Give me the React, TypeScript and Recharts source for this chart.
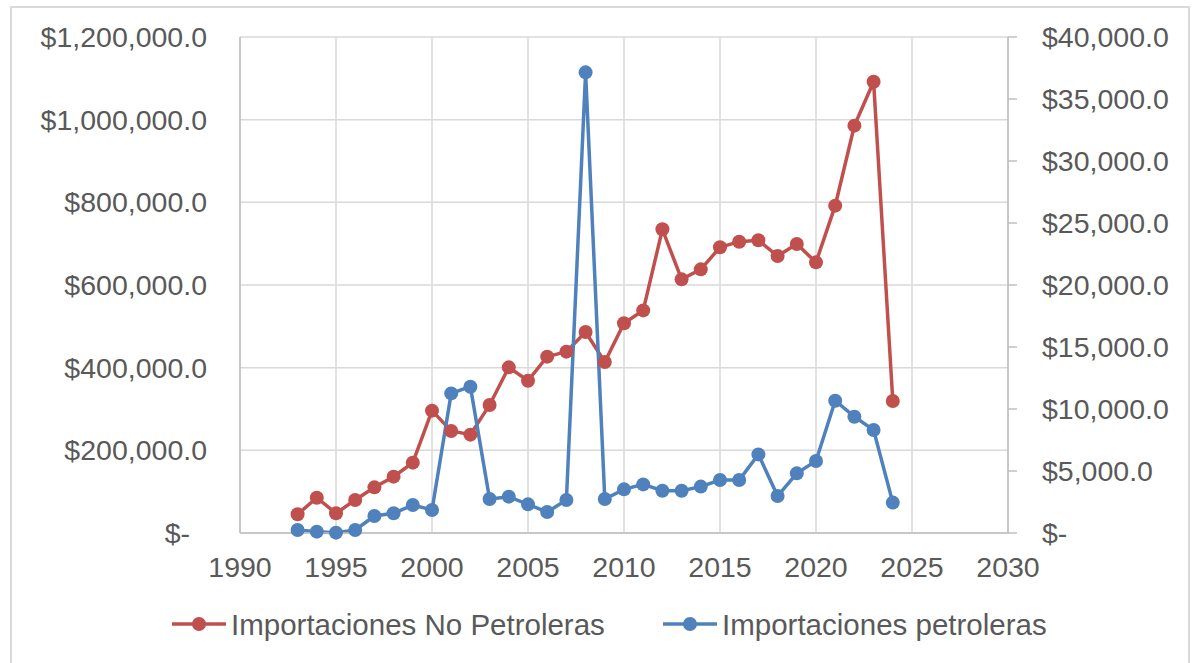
import React from "react";
import { LineChart, Line, XAxis, YAxis, CartesianGrid, Legend } from "recharts";

const years = [1993, 1994, 1995, 1996, 1997, 1998, 1999, 2000, 2001, 2002, 2003, 2004, 2005, 2006, 2007, 2008, 2009, 2010, 2011, 2012, 2013, 2014, 2015, 2016, 2017, 2018, 2019, 2020, 2021, 2022, 2023, 2024];

const noPetroleras = [45200, 85400, 47700, 79800, 110500, 136300, 170200, 296000, 246800, 238000, 309700, 400800, 368500, 426600, 438700, 486300, 413700, 507300, 538500, 734700, 613700, 637900, 691200, 704800, 708100, 670200, 699200, 654800, 792000, 985500, 1091900, 319400];

const petroleras = [240, 110, 30, 240, 1370, 1590, 2260, 1860, 11260, 11800, 2740, 2930, 2310, 1690, 2660, 37150, 2740, 3520, 3920, 3410, 3410, 3740, 4270, 4270, 6340, 2980, 4810, 5810, 10670, 9380, 8310, 2450];

const xTicks = [1990, 1995, 2000, 2005, 2010, 2015, 2020, 2025, 2030];
const leftTicks = [0, 200000, 400000, 600000, 800000, 1000000, 1200000];
const rightTicks = [0, 5000, 10000, 15000, 20000, 25000, 30000, 35000, 40000];

const SERIES_NO_PET = "Importaciones No Petroleras";
const SERIES_PET = "Importaciones petroleras";

const RED = "#C0504D";
const BLUE = "#4F81BD";
const TEXT = "#595959";
const FONT = "'Liberation Sans', Arial, sans-serif";

const data = years.map((y, i) => ({ year: y, nonPet: noPetroleras[i], pet: petroleras[i] }));

const money = (v: number) =>
  v === 0 ? "$-" : "$" + v.toLocaleString("en-US", { minimumFractionDigits: 1, maximumFractionDigits: 1 });

const LeftTick = (props: any) => {
  const { x, y, payload } = props;
  const isZero = payload.value === 0;
  return (
    <text x={x} y={y} dx={isZero ? -17 : 0} dy="0.355em" textAnchor="end" fill={TEXT} fontSize={28.5} fontFamily={FONT}>
      {money(payload.value)}
    </text>
  );
};

const RightTick = (props: any) => {
  const { x, y, payload } = props;
  return (
    <text x={x} y={y} dy="0.355em" textAnchor="start" fill={TEXT} fontSize={28.5} fontFamily={FONT}>
      {money(payload.value)}
    </text>
  );
};

const BottomTick = (props: any) => {
  const { x, y, payload } = props;
  return (
    <text x={x} y={y} dy="0.71em" textAnchor="middle" fill={TEXT} fontSize={28.5} fontFamily={FONT}>
      {payload.value}
    </text>
  );
};

const legendLayout = [
  { lineX1: 172, lineX2: 226, cx: 199, textX: 231 },
  { lineX1: 663, lineX2: 717, cx: 690, textX: 722 },
];

const LegendContent = (props: any) => {
  const payload = props.payload || [];
  return (
    <svg width={1201} height={40} style={{ display: "block" }}>
      {payload.map((p: any, i: number) => {
        const l = legendLayout[i];
        if (!l) return null;
        return (
          <g key={p.value}>
            <line x1={l.lineX1} x2={l.lineX2} y1={19} y2={19} stroke={p.color} strokeWidth={3.5} />
            <circle cx={l.cx} cy={19} r={7} fill={p.color} />
            <text x={l.textX} y={30} fill={TEXT} fontSize={29.5} fontFamily={FONT}>
              {p.value}
            </text>
          </g>
        );
      })}
    </svg>
  );
};

export default function App() {
  return (
    <div style={{ position: "absolute", left: 0, top: 0, width: 1201, height: 663, background: "#fff", overflow: "hidden" }}>
      <div
        style={{
          position: "absolute",
          left: 10,
          top: 6,
          width: 1180,
          height: 680,
          border: "2px solid #d9d9d9",
          boxSizing: "border-box",
        }}
      />
      <LineChart width={1201} height={663} data={data} margin={{ top: 37, right: 0, bottom: 0, left: 0 }}>
        <CartesianGrid yAxisId="left" stroke="#d9d9d9" strokeWidth={1.5} />
        <XAxis
          dataKey="year"
          type="number"
          domain={[1990, 2030]}
          ticks={xTicks}
          height={130}
          tickSize={0}
          tickMargin={24}
          axisLine={{ stroke: "#bfbfbf", strokeWidth: 1.5 }}
          tick={<BottomTick />}
          interval={0}
        />
        <YAxis
          yAxisId="left"
          orientation="left"
          width={240}
          domain={[0, 1200000]}
          ticks={leftTicks}
          tickSize={0}
          tickMargin={33}
          axisLine={{ stroke: "#bfbfbf", strokeWidth: 1.5 }}
          tickLine={false}
          tick={<LeftTick />}
          interval={0}
        />
        <YAxis
          yAxisId="right"
          orientation="right"
          width={193}
          domain={[0, 40000]}
          ticks={rightTicks}
          tickSize={9}
          tickMargin={25}
          axisLine={{ stroke: "#bfbfbf", strokeWidth: 1.5 }}
          tickLine={{ stroke: "#bfbfbf", strokeWidth: 1.5 }}
          tick={<RightTick />}
          interval={0}
        />
        <Legend
          layout="horizontal"
          verticalAlign="middle"
          align="center"
          wrapperStyle={{ top: 605, left: 0, width: 1201, height: 40 }}
          content={<LegendContent />}
        />
        <Line
          yAxisId="left"
          type="linear"
          dataKey="nonPet"
          name={SERIES_NO_PET}
          stroke={RED}
          strokeWidth={3.5}
          dot={{ r: 7, fill: RED, stroke: RED, strokeWidth: 0 }}
          activeDot={false}
          isAnimationActive={false}
        />
        <Line
          yAxisId="right"
          type="linear"
          dataKey="pet"
          name={SERIES_PET}
          stroke={BLUE}
          strokeWidth={3.5}
          dot={{ r: 7, fill: BLUE, stroke: BLUE, strokeWidth: 0 }}
          activeDot={false}
          isAnimationActive={false}
        />
      </LineChart>
    </div>
  );
}
